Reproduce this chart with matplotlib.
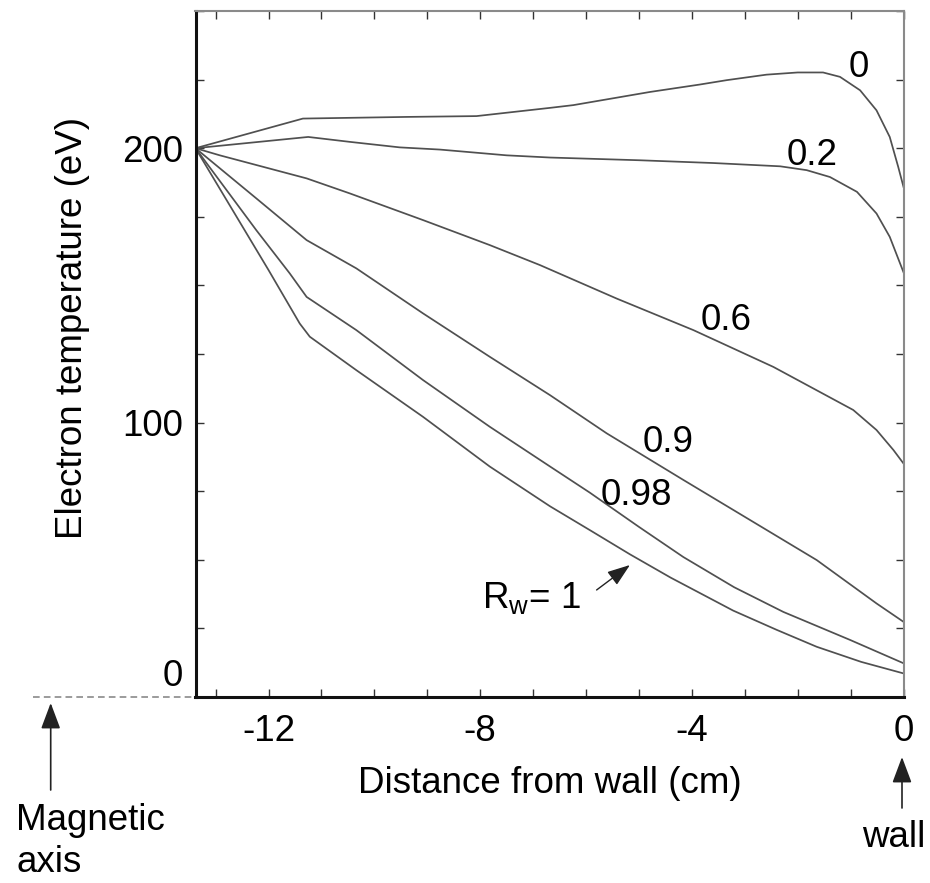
import numpy as np
import matplotlib
matplotlib.use("Agg")
import matplotlib.pyplot as plt

# ---------------- data ----------------
x_rw0 = [-13.38, -11.35, -9.39, -8.07, -6.68, -6.24, -4.79, -3.85, -3.34, -2.59, -2.0, -1.52, -1.20, -0.82, -0.51, -0.26, -0.10, 0.0]
y_rw0 = [200, 210.8, 211.4, 211.7, 214.7, 215.7, 220.5, 223.2, 224.8, 226.8, 227.6, 227.6, 226.0, 221.1, 213.8, 204.1, 193.2, 185.9]

x_rw02 = [-13.38, -11.25, -10.46, -9.52, -8.76, -7.50, -6.68, -4.98, -3.60, -2.33, -1.83, -1.39, -0.88, -0.51, -0.26, 0.0]
y_rw02 = [200, 204.1, 202.3, 200.3, 199.5, 197.4, 196.6, 195.6, 194.6, 193.4, 192.0, 189.5, 184.1, 176.2, 167.7, 154.8]

x_rw06 = [-13.38, -12.92, -11.28, -10.46, -9.08, -7.82, -6.87, -5.42, -3.97, -2.46, -0.95, -0.51, -0.19, 0.0]
y_rw06 = [200, 197.4, 189.0, 183.5, 173.8, 164.7, 157.4, 145.2, 133.7, 120.3, 104.6, 97.3, 90.0, 85.1]

x_rw09 = [-13.38, -12.23, -11.28, -10.34, -9.08, -7.82, -6.68, -5.61, -4.16, -2.90, -1.64, -0.51, 0.0]
y_rw09 = [200, 181.7, 166.5, 156.2, 139.8, 124.0, 110.0, 96.1, 79.1, 64.5, 49.9, 34.1, 27.4]

x_rw098 = [-13.38, -12.23, -11.60, -11.28, -10.34, -9.08, -7.82, -6.68, -5.93, -5.0, -4.16, -3.2, -2.27, -1.01, 0.0]
y_rw098 = [200, 170.1, 154.4, 145.8, 133.7, 115.5, 98.5, 84.0, 74.5, 62.0, 51.0, 40.0, 31.0, 20.8, 12.3]

x_rw1 = [-13.38, -12.0, -11.41, -11.22, -10.34, -9.08, -7.82, -6.68, -5.9, -5.17, -4.4, -3.22, -2.4, -1.64, -0.8, 0.0]
y_rw1 = [200, 155.6, 136.1, 131.3, 119.1, 102.1, 84.0, 69.5, 60.5, 52.0, 43.5, 31.5, 24.5, 18.3, 12.8, 8.6]

curve_labels = ["0", "0.2", "0.6", "0.9", "0.98"]
label_x = [-0.84, -1.735, -3.355, -4.45, -5.05]
label_y = [225.9, 193.8, 133.7, 89.4, 69.9]

x_tick_values = list(range(-13, 1))
x_tick_text = {-12: "-12", -8: "-8", -4: "-4", 0: "0"}
y_tick_values = list(range(0, 251, 25))
y_tick_text = {100: "100", 200: "200"}

xmin, xmax = -13.38, 0.0
ymin, ymax = 0, 250
magnetic_axis_x = -16.45

# ---------------- style ----------------
plt.rcParams["font.family"] = ["Liberation Sans", "DejaVu Sans"]
plt.rcParams["mathtext.fontset"] = "custom"
plt.rcParams["mathtext.rm"] = "Liberation Sans"
plt.rcParams["mathtext.it"] = "Liberation Sans:italic"

FS = 26.5
W, H = 930, 883
LINE_C = "#505050"


def fx(px):
    return px / W


def fy(py):
    return 1 - py / H


fig = plt.figure(figsize=(W / 100, H / 100), dpi=100)
ax = fig.add_axes([fx(195.5), fy(697), fx(903.5) - fx(195.5), fy(11) - fy(697)])

for xs, ys in [(x_rw0, y_rw0), (x_rw02, y_rw02), (x_rw06, y_rw06),
               (x_rw09, y_rw09), (x_rw098, y_rw098), (x_rw1, y_rw1)]:
    ax.plot(xs, ys, color=LINE_C, lw=1.25, solid_joinstyle="round")

ax.set_xlim(xmin, xmax)
ax.set_ylim(ymin, ymax)

ax.set_xticks(x_tick_values, [x_tick_text.get(v, "") for v in x_tick_values])
ax.set_yticks(y_tick_values, [y_tick_text.get(v, "") for v in y_tick_values])
ax.tick_params(which="both", direction="in", length=6, width=1.0, color="#333333",
               top=True, right=True, labelsize=FS)
ax.tick_params(axis="x", pad=12)
ax.tick_params(axis="y", pad=9)

for s in ["left", "bottom"]:
    ax.spines[s].set_linewidth(2.2)
    ax.spines[s].set_color("#111111")
for s in ["top", "right"]:
    ax.spines[s].set_linewidth(1.5)
    ax.spines[s].set_color("#8a8a8a")

# "0" y-label sits a bit above the axis (dashed line below it)
ax.annotate("0", xy=(0, 0), xycoords=("axes fraction", "data"),
            xytext=(-12.5, 20.5), textcoords="offset pixels",
            ha="right", va="center", fontsize=FS)

ax.set_xlabel("Distance from wall (cm)", fontsize=FS)
ax.xaxis.set_label_coords(0.5007, -0.1006)
ax.set_ylabel("Electron temperature (eV)", fontsize=FS)
ax.yaxis.set_label_coords(-0.149, 0.538)

# curve labels
for t, lx, ly in zip(curve_labels, label_x, label_y):
    ax.text(lx, ly, t, ha="center", va="baseline", fontsize=FS)

ax.text(-7.97, 32.4, r"R$_{\mathrm{w}}$= 1", ha="left", va="baseline", fontsize=FS)
ax.annotate("", xy=(-5.17, 48.1), xytext=(-5.80, 39.0),
            arrowprops=dict(arrowstyle="-|>,head_length=0.7,head_width=0.25",
                            color="#222222", lw=1.0, shrinkA=0, shrinkB=0,
                            mutation_scale=20))

# dashed line to the magnetic axis
ax.plot([magnetic_axis_x, xmin], [0, 0], ls=(0, (4, 2.5)), color="#8a8a8a",
        lw=1.2, clip_on=False)

# magnetic axis arrow and text
ax.annotate("", xy=(fx(50.7), fy(703)), xycoords="figure fraction",
            xytext=(fx(50.7), fy(790)), textcoords="figure fraction",
            arrowprops=dict(arrowstyle="-|>,head_length=0.8,head_width=0.3",
                            color="#222222", lw=1.2, shrinkA=0, shrinkB=0,
                            mutation_scale=20))
fig.text(fx(16), fy(830), "Magnetic", ha="left", va="baseline", fontsize=FS)
fig.text(fx(16), fy(872), "axis", ha="left", va="baseline", fontsize=FS)

# wall arrow and text
ax.annotate("", xy=(fx(902), fy(757)), xycoords="figure fraction",
            xytext=(fx(902), fy(808)), textcoords="figure fraction",
            arrowprops=dict(arrowstyle="-|>,head_length=0.8,head_width=0.3",
                            color="#222222", lw=1.2, shrinkA=0, shrinkB=0,
                            mutation_scale=20))
fig.text(fx(894), fy(846.7), "wall", ha="center", va="baseline", fontsize=FS)

fig.savefig("out.png", dpi=100)
